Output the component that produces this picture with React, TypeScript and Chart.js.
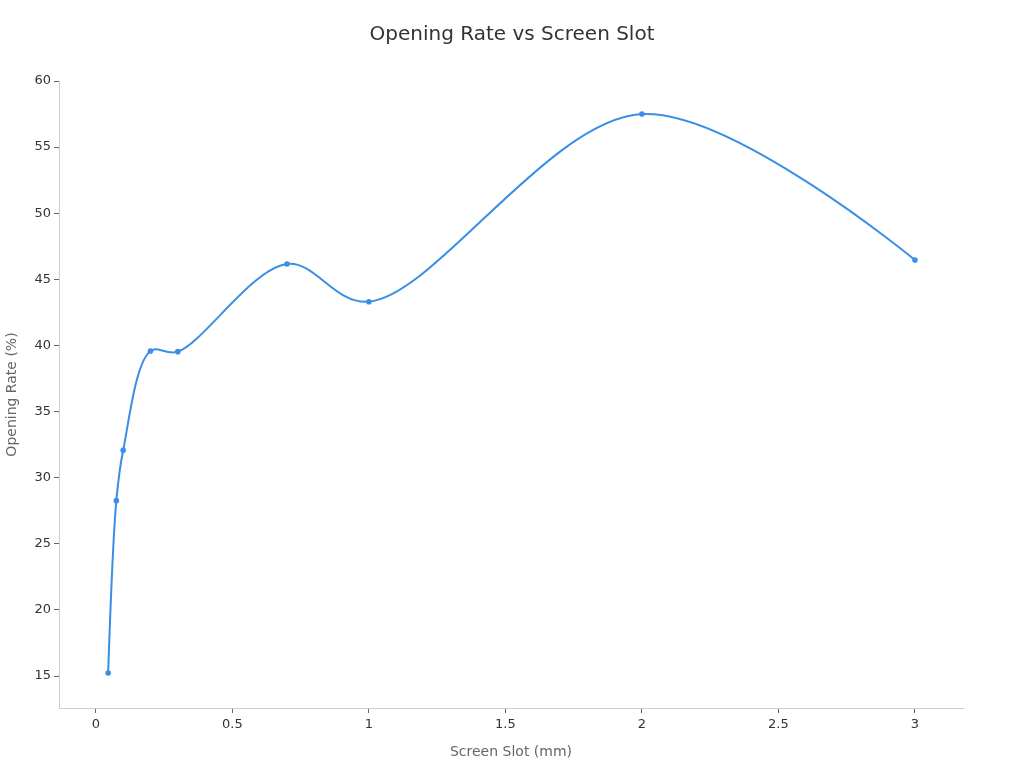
import { useEffect, useRef } from 'react';
import { Chart, registerables } from 'chart.js';

Chart.register(...registerables);

// Screen slot width (mm) and measured opening rate (%)
const slotWidths = [0.045, 0.075, 0.1, 0.2, 0.3, 0.7, 1.0, 2.0, 3.0];
const openingRates = [15.23, 28.26, 32.07, 39.58, 39.53, 46.16, 43.31, 57.5, 46.46];

const xTickValues = [0, 0.5, 1, 1.5, 2, 2.5, 3];
const yTickValues = [15, 20, 25, 30, 35, 40, 45, 50, 55, 60];

const LINE_COLOR = '#3a8ee6';
const FONT = 'DejaVu Sans, sans-serif';

// centripetal catmull-rom smoothing (alpha 0.5) on the pixel positions chart.js computed
const catmullRom = {
  id: 'catmullRom',
  beforeDatasetsDraw(chart: any) {
    const meta = chart.getDatasetMeta(0);
    const line = meta.dataset;
    const pts = meta.data;
    if (!line || !pts || pts.length < 2) return;
    line.updateControlPoints(chart.chartArea, 'x');
    const dist = (a: any, b: any) => Math.hypot(b.x - a.x, b.y - a.y);
    for (let i = 0; i < pts.length - 1; i++) {
      const p0 = pts[i - 1];
      const p1 = pts[i];
      const p2 = pts[i + 1];
      const p3 = pts[i + 2];
      const l12 = dist(p1, p2);
      const l12a = Math.sqrt(l12);
      let c1x = p1.x;
      let c1y = p1.y;
      let c2x = p2.x;
      let c2y = p2.y;
      if (p0) {
        const l01 = dist(p0, p1);
        const l01a = Math.sqrt(l01);
        if (l01a > 1e-6) {
          const a = 2 * l01 + 3 * l01a * l12a + l12;
          const n = 3 * l01a * (l01a + l12a);
          c1x = (p1.x * a - p0.x * l12 + p2.x * l01) / n;
          c1y = (p1.y * a - p0.y * l12 + p2.y * l01) / n;
        }
      }
      if (p3) {
        const l23 = dist(p2, p3);
        const l23a = Math.sqrt(l23);
        if (l23a > 1e-6) {
          const b = 2 * l23 + 3 * l23a * l12a + l12;
          const m = 3 * l23a * (l23a + l12a);
          c2x = (p2.x * b - p3.x * l12 + p1.x * l23) / m;
          c2y = (p2.y * b - p3.y * l12 + p1.y * l23) / m;
        }
      }
      p1.cp2x = c1x;
      p1.cp2y = c1y;
      p2.cp1x = c2x;
      p2.cp1y = c2y;
    }
  },
};

const App = () => {
  const canvasRef = useRef<HTMLCanvasElement | null>(null);
  const chartRef = useRef<Chart | null>(null);

  useEffect(() => {
    if (!canvasRef.current) return;
    if (chartRef.current) chartRef.current.destroy();

    document.body.style.margin = '0';

    chartRef.current = new Chart(canvasRef.current, {
      type: 'line',
      data: {
        datasets: [
          {
            label: 'Opening Rate',
            data: slotWidths.map((x, i) => ({ x, y: openingRates[i] })),
            borderColor: LINE_COLOR,
            backgroundColor: LINE_COLOR,
            borderWidth: 2,
            pointRadius: 2.8,
            pointBorderWidth: 0,
            tension: 0.4,
            fill: false,
            yAxisID: 'y',
          },
        ],
      },
      options: {
        animation: false,
        responsive: false,
        maintainAspectRatio: false,
        layout: { padding: 0 },
        plugins: {
          legend: { display: false },
          tooltip: { enabled: false },
          title: {
            display: true,
            text: 'Opening Rate vs Screen Slot',
            color: '#333',
            font: { family: FONT, size: 20, weight: 'normal' },
            padding: { top: 23, bottom: 34 },
          },
        },
        scales: {
          x: {
            type: 'linear',
            min: -0.135,
            max: 3.176,
            afterBuildTicks: (scale) => {
              scale.ticks = xTickValues.map((value) => ({ value }));
            },
            afterFit: (scale) => {
              scale.height = 60;
            },
            ticks: {
              color: '#333',
              font: { family: FONT, size: 13 },
              padding: 4,
              maxRotation: 0,
              callback: (v) => String(v),
            },
            grid: {
              drawOnChartArea: false,
              drawTicks: true,
              tickLength: 5,
              color: '#666',
            },
            border: { display: true, color: '#ccc' },
            title: {
              display: true,
              text: 'Screen Slot (mm)',
              color: '#666',
              font: { family: FONT, size: 14 },
              padding: { top: 0, bottom: 7 },
            },
          },
          y: {
            type: 'linear',
            position: 'left',
            min: 12.58,
            max: 60,
            afterBuildTicks: (scale) => {
              scale.ticks = yTickValues.map((value) => ({ value }));
            },
            afterFit: (scale) => {
              scale.width = 59;
            },
            ticks: {
              color: '#333',
              font: { family: FONT, size: 13 },
              padding: 3,
              callback: (v) => String(v),
            },
            grid: {
              drawOnChartArea: false,
              drawTicks: true,
              tickLength: 5,
              color: '#666',
            },
            border: { display: true, color: '#ccc' },
            title: {
              display: true,
              text: 'Opening Rate (%)',
              color: '#666',
              font: { family: FONT, size: 14 },
              padding: { top: 4, bottom: 0 },
            },
          },
          // empty spacer on the right so the plot ends where the reference does
          spacer: {
            type: 'linear',
            position: 'right',
            display: true,
            afterFit: (scale) => {
              scale.width = 61;
            },
            ticks: { display: false },
            grid: { display: false },
            border: { display: false },
          },
        },
      },
      plugins: [catmullRom],
    });

    return () => {
      if (chartRef.current) {
        chartRef.current.destroy();
        chartRef.current = null;
      }
    };
  }, []);

  return (
    <div style={{ position: 'absolute', left: 0, top: 0, width: 1024, height: 768, background: '#fff' }}>
      <canvas ref={canvasRef} width={1024} height={768} />
    </div>
  );
};

export default App;
